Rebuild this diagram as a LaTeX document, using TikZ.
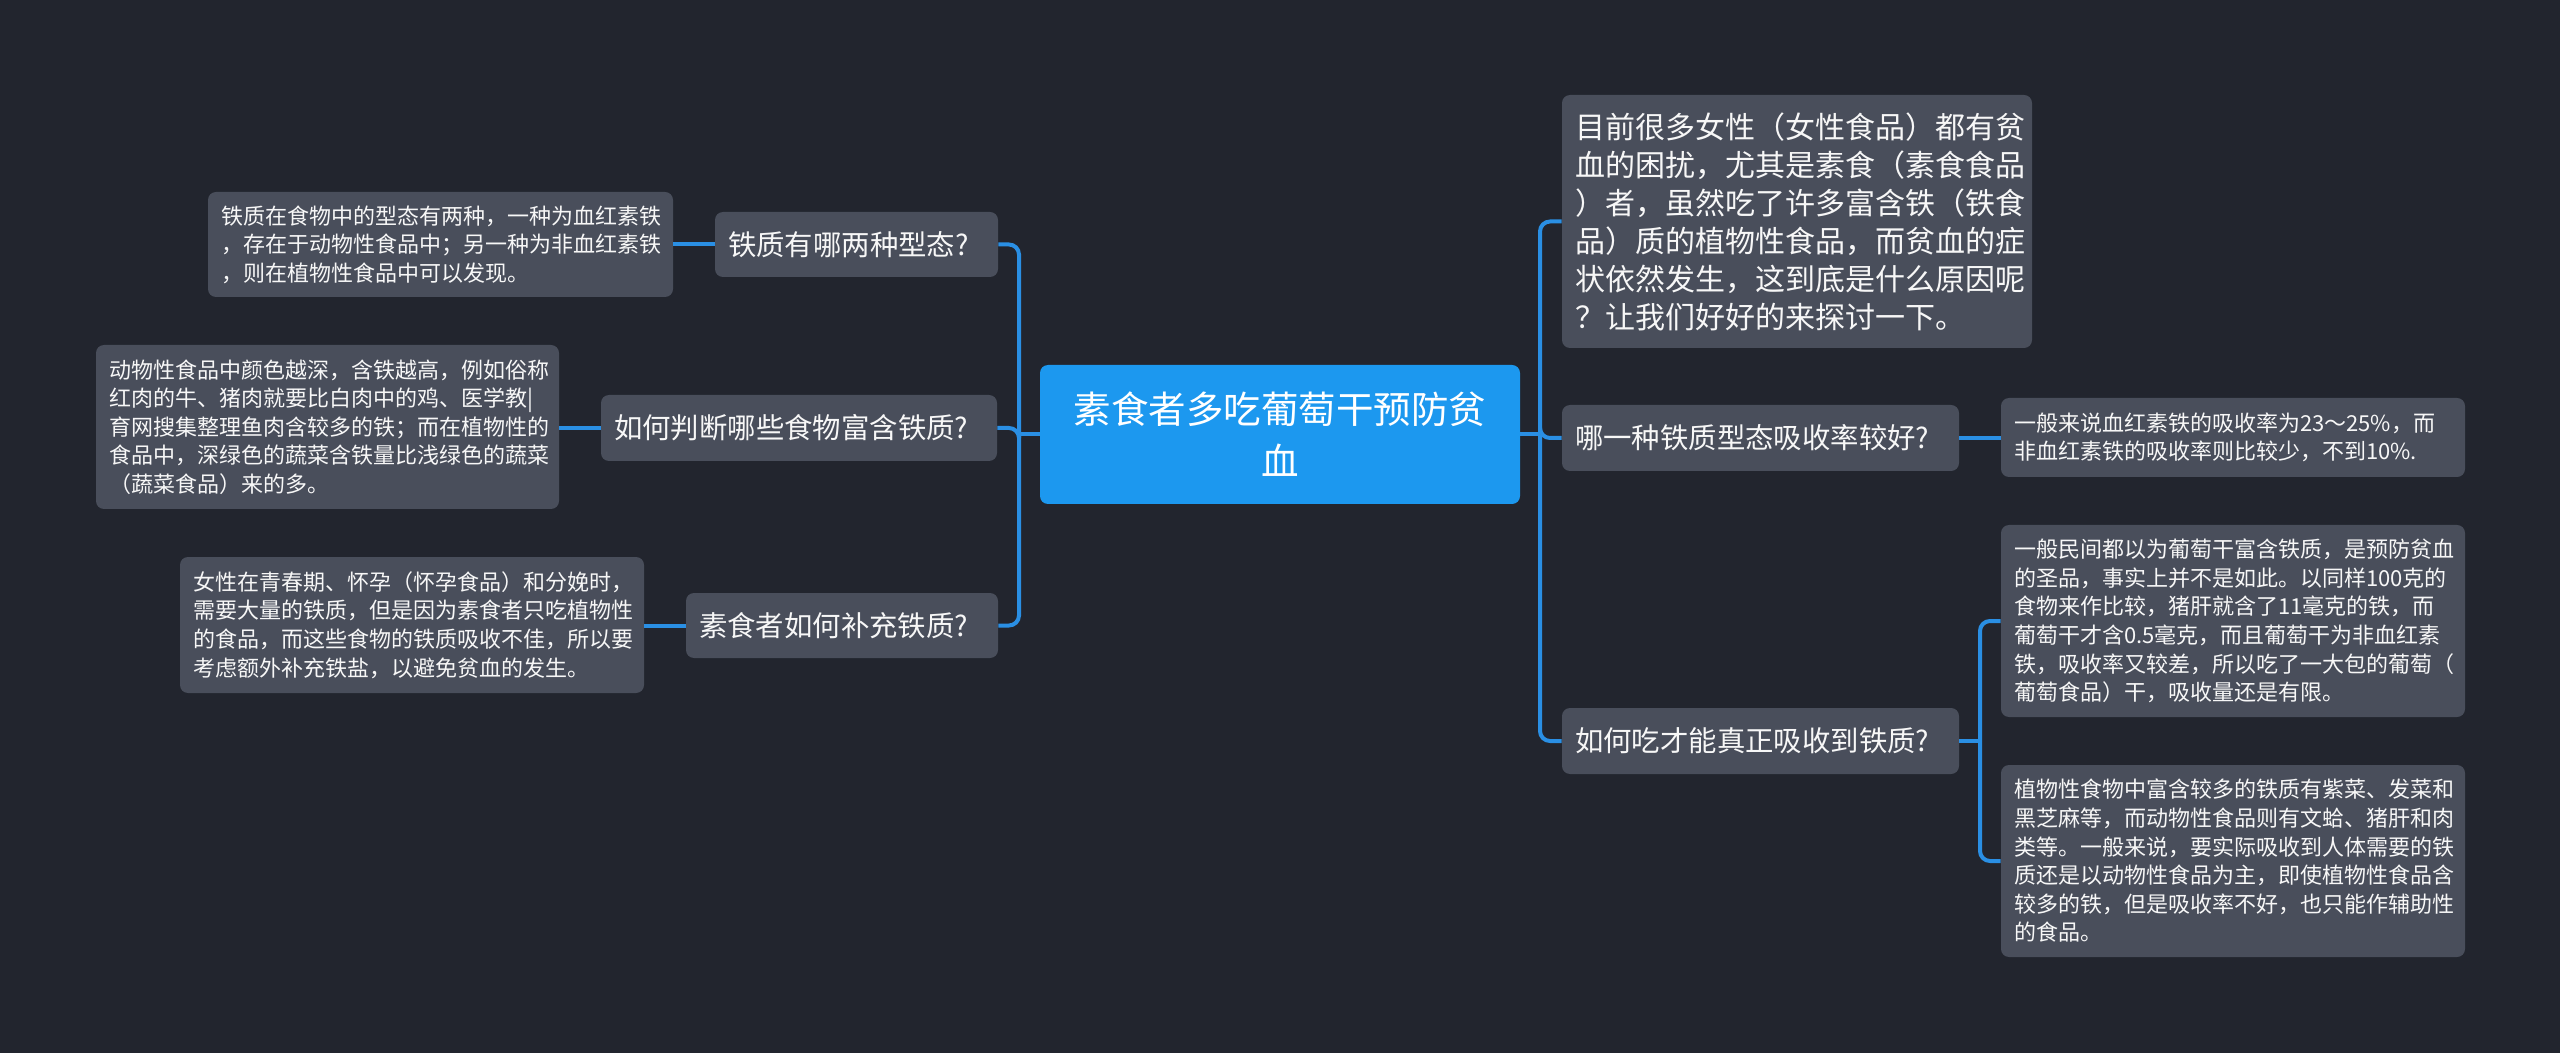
\documentclass[tikz,border=0pt]{standalone}
\usepackage{fontspec}
\setmainfont{Noto Sans CJK SC}
\definecolor{bg}{HTML}{22252E}
\definecolor{nodefill}{HTML}{494E5B}
\definecolor{rootfill}{HTML}{1C98EF}
\definecolor{linkc}{HTML}{2A8FE4}
\definecolor{txt}{HTML}{F7F7F7}
\tikzset{
  box/.style={draw=none, fill=nodefill, rounded corners=4pt, text=txt, inner xsep=6.5pt, inner ysep=0pt, align=left},
  topic/.style={box, font=\fontsize{14.2}{18}\selectfont},
  leaf/.style={box, font=\fontsize{11}{14.3}\selectfont},
  intro/.style={box, font=\fontsize{15}{19}\selectfont},
  root/.style={box, fill=rootfill, align=center, text=white, font=\fontsize{18.75}{26}\selectfont},
  link/.style={draw=linkc, line width=2pt, rounded corners=5pt},
}
\begin{document}
\begin{tikzpicture}[x=0.5pt, y=-0.5pt]
\useasboundingbox (0,0) rectangle (2560,1053);
\fill[bg] (0,0) rectangle (2560,1053);

% root
\node[root, text width=227pt, minimum height=69.5pt] (C) at (1280,434.5) {素食者多吃葡萄干预防贫\\血};

% left side
\node[topic, text width=128.5pt, minimum height=32.5pt] (L1) at (856.5,244.5) {铁质有哪两种型态?};
\node[leaf, text width=219.5pt, minimum height=52.5pt] (L1a) at (440.5,244.5) {铁质在食物中的型态有两种，一种为血红素铁\\，存在于动物性食品中；另一种为非血红素铁\\，则在植物性食品中可以发现。};

\node[topic, text width=185pt, minimum height=33pt] (L2) at (799,428) {如何判断哪些食物富含铁质?};
\node[leaf, text width=218.5pt, minimum height=82pt] (L2a) at (327.5,427) {动物性食品中颜色越深，含铁越高，例如俗称\\红肉的牛、猪肉就要比白肉中的鸡、医学教|\\育网搜集整理鱼肉含较多的铁；而在植物性的\\食品中，深绿色的蔬菜含铁量比浅绿色的蔬菜\\（蔬菜食品）来的多。};

\node[topic, text width=143pt, minimum height=32.5pt] (L3) at (842,625.5) {素食者如何补充铁质?};
\node[leaf, text width=219pt, minimum height=68pt] (L3a) at (412,625) {女性在青春期、怀孕（怀孕食品）和分娩时，\\需要大量的铁质，但是因为素食者只吃植物性\\的食品，而这些食物的铁质吸收不佳，所以要\\考虑额外补充铁盐，以避免贫血的发生。};

% right side
\node[intro, text width=222pt, minimum height=126.5pt] (R1) at (1797,221.5) {目前很多女性（女性食品）都有贫\\血的困扰，尤其是素食（素食食品\\）者，虽然吃了许多富含铁（铁食\\品）质的植物性食品，而贫血的症\\状依然发生，这到底是什么原因呢\\？让我们好好的来探讨一下。};

\node[topic, text width=185.5pt, minimum height=33pt] (R2) at (1760.5,438) {哪一种铁质型态吸收率较好?};
\node[leaf, text width=219pt, minimum height=39.5pt] (R2a) at (2233,437.5) {一般来说血红素铁的吸收率为23～25\%，而\\非血红素铁的吸收率则比较少，不到10\%.};

\node[topic, text width=185.5pt, minimum height=33pt] (R3) at (1760.5,741) {如何吃才能真正吸收到铁质?};
\node[leaf, text width=219pt, minimum height=96pt] (R3a) at (2233,621) {一般民间都以为葡萄干富含铁质，是预防贫血\\的圣品，事实上并不是如此。以同样100克的\\食物来作比较，猪肝就含了11毫克的铁，而\\葡萄干才含0.5毫克，而且葡萄干为非血红素\\铁，吸收率又较差，所以吃了一大包的葡萄（\\葡萄食品）干，吸收量还是有限。};
\node[leaf, text width=219pt, minimum height=96pt] (R3b) at (2233,861) {植物性食物中富含较多的铁质有紫菜、发菜和\\黑芝麻等，而动物性食品则有文蛤、猪肝和肉\\类等。一般来说，要实际吸收到人体需要的铁\\质还是以动物性食品为主，即使植物性食品含\\较多的铁，但是吸收率不好，也只能作辅助性\\的食品。};

% spine points
\coordinate (spL) at (1019,434.5);
\coordinate (spR) at (1540,434.5);
\coordinate (spR3) at (1980,741);

% connectors
\draw[link] (C.west) -- (spL);
\draw[link] (spL) |- (L1.east);
\draw[link] (spL) |- (L2.east);
\draw[link] (spL) |- (L3.east);
\draw[link] (L1.west) -- (L1.west -| L1a.east);
\draw[link] (L2.west) -- (L2.west -| L2a.east);
\draw[link] (L3.west) -- (L3.west -| L3a.east);

\draw[link] (C.east) -- (spR);
\draw[link] (spR) |- (R1.west);
\draw[link] (spR) |- (R2.west);
\draw[link] (spR) |- (R3.west);
\draw[link] (R2.east) -- (R2.east -| R2a.west);
\draw[link] (R3.east) -- (spR3);
\draw[link] (spR3) |- (R3a.west);
\draw[link] (spR3) |- (R3b.west);
\end{tikzpicture}
\end{document}
